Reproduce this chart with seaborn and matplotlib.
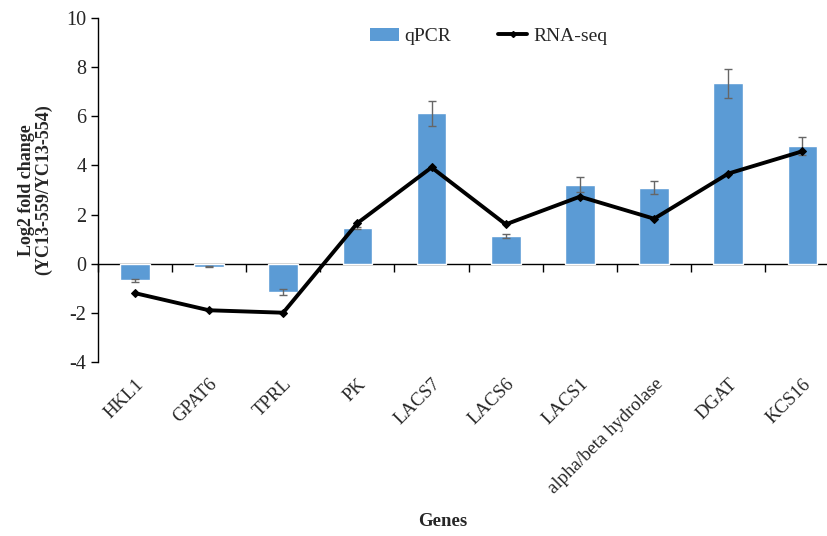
import matplotlib
matplotlib.use("Agg")
import matplotlib.pyplot as plt
import seaborn as sns
import numpy as np
import pandas as pd
from matplotlib.patches import Patch
from matplotlib.lines import Line2D

genes = ["HKL1", "GPAT6", "TPRL", "PK", "LACS7", "LACS6", "LACS1",
         "alpha/beta hydrolase", "DGAT", "KCS16"]
qpcr = [-0.68, -0.12, -1.15, 1.45, 6.12, 1.14, 3.22, 3.10, 7.35, 4.78]
qpcr_err = [0.05, 0.03, 0.12, 0.05, 0.50, 0.08, 0.30, 0.25, 0.60, 0.37]
rnaseq = [-1.2, -1.9, -2.0, 1.65, 3.92, 1.6, 2.73, 1.83, 3.67, 4.58]
yticks = [-4, -2, 0, 2, 4, 6, 8, 10]

df = pd.DataFrame({"gene": genes, "qPCR": qpcr, "err": qpcr_err, "RNA-seq": rnaseq})

sns.set_theme(style="white")
plt.rcParams["font.family"] = ["Liberation Serif", "DejaVu Serif"]

bar_color = "#5B9BD5"
fig = plt.figure(figsize=(8.28, 5.36), dpi=100)
ax = fig.add_axes([0.118, 0.325, 0.896, 0.641])

sns.barplot(data=df, x="gene", y="qPCR", color=bar_color, width=0.4,
            saturation=1, errorbar=None, ax=ax)
ax.errorbar(np.arange(len(genes)), df["qPCR"], yerr=df["err"], fmt="none",
            ecolor="#666666", elinewidth=1, capsize=3, capthick=1)
sns.lineplot(x=np.arange(len(genes)), y=df["RNA-seq"], color="black",
             linewidth=2.8, marker="D", markersize=4, markeredgecolor="black",
             ax=ax)

ymin, ymax = -4, 10
ax.set_ylim(ymin, ymax)
ax.set_xlim(-0.5, len(genes) - 0.5)
ax.set_yticks(yticks)
ax.set_yticklabels([str(t) for t in yticks], fontsize=14.5)
ax.tick_params(axis="y", direction="out", length=5, width=1, color="black",
               left=True, pad=3)

for side in ["top", "right", "bottom"]:
    ax.spines[side].set_visible(False)
ax.spines["left"].set_color("black")
ax.spines["left"].set_linewidth(1)

ax.set_xticks(np.arange(len(genes)))
ax.set_xticklabels(genes, rotation=45, ha="right", rotation_mode="anchor",
                   fontsize=13.5)
ax.tick_params(axis="x", length=0, pad=10)

# horizontal axis crossing at zero with boundary ticks
sec = ax.secondary_xaxis((0 - ymin) / (ymax - ymin))
sec.set_xticks(np.arange(-0.5, len(genes), 1))
sec.set_xticklabels([])
sec.tick_params(direction="out", length=6, width=1, color="black", bottom=True)
sec.spines["bottom"].set_color("black")
sec.spines["bottom"].set_linewidth(1)

ax.set_xlabel("")
ax.set_ylabel("Log2 fold change\n(YC13-559/YC13-554)", fontsize=13,
              fontweight="bold", linespacing=1.0, labelpad=10)

handles = [Patch(facecolor=bar_color, edgecolor="none"),
           Line2D([], [], color="black", lw=2.8, marker="D", markersize=3)]
fig.legend(handles, ["qPCR", "RNA-seq"], loc="center",
           bbox_to_anchor=(0.59, 0.932), ncol=2, frameon=False, fontsize=14,
           columnspacing=2.4, handlelength=1.5, handletextpad=0.3)

fig.text(443 / 828, 1 - 522 / 536, "Genes", ha="center", va="center",
         fontsize=13.5, fontweight="bold")

fig.savefig("out.png", dpi=100)
